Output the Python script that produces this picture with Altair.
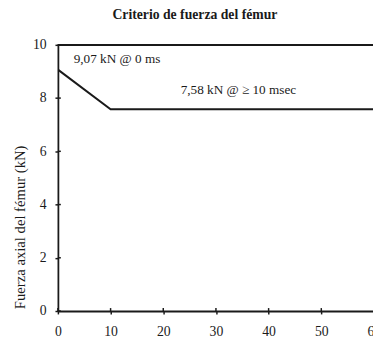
import altair as alt
import pandas as pd

time_ms = [0, 10, 62]
force_kn = [9.07, 7.58, 7.58]

x_ticks = [0, 10, 20, 30, 40, 50, 60]
y_ticks = [0, 2, 4, 6, 8, 10]

labels_text = ["9,07 kN @ 0 ms", "7,58 kN @ ≥ 10 msec"]
labels_x = [3, 23.3]
labels_y = [9.45, 8.3]

line_df = pd.DataFrame({"t": time_ms, "f": force_kn})
lab_df = pd.DataFrame({"t": labels_x, "f": labels_y, "txt": labels_text})
xt_df = pd.DataFrame({"t": x_ticks})
yt_df = pd.DataFrame({"f": y_ticks})

FONT = "Liberation Serif"
INK = "#1a1a1a"
W, H = 322, 272

xscale = alt.Scale(domain=[0, 60], range=[0, 323], nice=False, zero=False)
yscale = alt.Scale(domain=[0, 10], nice=False)

x = alt.X("t:Q", scale=xscale,
          axis=alt.Axis(values=x_ticks, title=None, grid=False,
                        domainColor=INK, tickColor=INK, tickSize=3, tickWidth=1.5,
                        labelFont=FONT, labelFontSize=14, labelColor=INK, labelPadding=11,
                        domainWidth=1.8, labelFlush=False, labelOverlap=False))
y = alt.Y("f:Q", scale=yscale,
          axis=alt.Axis(values=y_ticks, title="Fuerza axial del fémur (kN)", grid=False,
                        domainColor=INK, tickColor=INK, tickSize=3, tickWidth=1.5,
                        labelFont=FONT, labelFontSize=14, labelColor=INK, labelPadding=9,
                        titleFont=FONT, titleFontSize=15, titleFontWeight="normal",
                        titleColor=INK, titleX=-39, titleY=186, titleAngle=270,
                        titleAlign="center", titleBaseline="middle",
                        domainWidth=1.8, labelFlush=False))

line = alt.Chart(line_df).mark_line(color=INK, strokeWidth=2, clip=True).encode(x=x, y=y)

top_border = alt.Chart(yt_df).mark_rule(color=INK, strokeWidth=1.8).encode(
    y=alt.datum(10, scale=yscale))

xt_in = alt.Chart(xt_df).mark_rule(color=INK, strokeWidth=1.5).encode(
    x=alt.X("t:Q", scale=xscale), y=alt.value(H), y2=alt.value(H - 3))
yt_in = alt.Chart(yt_df).mark_rule(color=INK, strokeWidth=1.5).encode(
    y=alt.Y("f:Q", scale=yscale), x=alt.value(0), x2=alt.value(3))

text = alt.Chart(lab_df).mark_text(align="left", baseline="middle", font=FONT, fontSize=13.5,
                                   color=INK).encode(x=alt.X("t:Q", scale=xscale),
                                                     y=alt.Y("f:Q", scale=yscale),
                                                     text="txt:N")

chart = alt.layer(line, top_border, xt_in, yt_in, text).properties(
    width=W, height=H,
    title=alt.TitleParams("Criterio de fuerza del fémur", font=FONT, fontSize=14,
                          fontWeight="bold", color=INK, offset=16, anchor="middle", dx=-21),
    padding={"left": 51, "top": 34, "right": 0, "bottom": 27},
    autosize=alt.AutoSizeParams(type="none"),
).configure_view(stroke=None)

chart.save("out.html", embed_options={"renderer": "svg", "actions": False})
